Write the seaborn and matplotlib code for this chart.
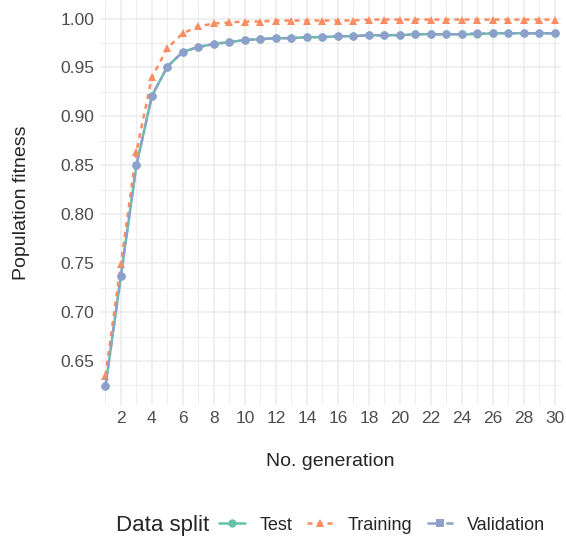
import numpy as np
import pandas as pd
import matplotlib.pyplot as plt
from matplotlib.lines import Line2D
from matplotlib.ticker import MultipleLocator
import seaborn as sns

generations = list(range(1, 31))
test = [0.624, 0.737, 0.850, 0.921, 0.951, 0.966, 0.971, 0.974, 0.976, 0.978,
        0.979, 0.980, 0.980, 0.981, 0.981, 0.982, 0.982, 0.983, 0.983, 0.983,
        0.984, 0.984, 0.984, 0.984, 0.984, 0.985, 0.985, 0.985, 0.985, 0.985]
training = [0.635, 0.749, 0.864, 0.940, 0.970, 0.985, 0.992, 0.995, 0.996, 0.997,
            0.997, 0.998, 0.998, 0.998, 0.998, 0.998, 0.998, 0.999, 0.999, 0.999,
            0.999, 0.999, 0.999, 0.999, 0.999, 0.999, 0.999, 0.999, 0.999, 0.999]
validation = [0.624, 0.737, 0.850, 0.921, 0.951, 0.966, 0.971, 0.974, 0.976, 0.978,
              0.979, 0.980, 0.980, 0.981, 0.981, 0.982, 0.982, 0.983, 0.983, 0.983,
              0.984, 0.984, 0.984, 0.984, 0.985, 0.985, 0.985, 0.985, 0.985, 0.985]
splits = ["Test", "Training", "Validation"]

df = pd.DataFrame({
    "gen": generations * 3,
    "fitness": test + training + validation,
    "split": [s for s in splits for _ in generations],
})

colors = {"Test": "#66c2a5", "Training": "#fc8d62", "Validation": "#8da0cb"}
dashes = {"Test": "", "Training": (2, 2), "Validation": (3.5, 1.5, 1, 1.5)}
markers = {"Test": "o", "Training": "^", "Validation": "o"}

sns.set_style("whitegrid")
plt.rcParams['font.family'] = ['Liberation Sans', 'DejaVu Sans']

fig = plt.figure(figsize=(5.66, 5.36), dpi=100)
ax = fig.add_axes([100/566, 1 - 405/536, 461/566, 405/536])

sns.lineplot(data=df, x="gen", y="fitness", hue="split", style="split",
             palette=colors, dashes=dashes, markers=markers, markersize=6,
             markeredgewidth=0, linewidth=1.8, ax=ax, legend=False)

ax.set_xlim(0.65, 30.4)
ax.set_ylim(0.605, 1.019)
ax.xaxis.set_minor_locator(MultipleLocator(1))
ax.yaxis.set_minor_locator(MultipleLocator(0.025))
ax.set_xticks(range(2, 31, 2))
yt = np.arange(0.65, 1.001, 0.05)
ax.set_yticks(yt)
ax.set_yticklabels([f"{v:.2f}" for v in yt])
ax.grid(which="major", color="#ebebeb", linewidth=1.1)
ax.grid(which="minor", color="#ebebeb", linewidth=0.6)
for s in ax.spines.values():
    s.set_visible(False)
ax.tick_params(which="both", length=0, labelsize=12.5, colors="#4d4d4d", pad=4)
ax.set_xlabel("No. generation", fontsize=14, labelpad=20)
ax.set_ylabel("Population fitness", fontsize=14, labelpad=22)

handles = [
    Line2D([], [], color=colors["Test"], linestyle="-", marker="o", markersize=6, markeredgewidth=0, linewidth=1.8),
    Line2D([], [], color=colors["Training"], linestyle=(0, (2, 2)), marker="^", markersize=6, markeredgewidth=0, linewidth=1.8),
    Line2D([], [], color=colors["Validation"], linestyle=(0, (3.5, 1.5, 1, 1.5)), marker="s", markersize=6, markeredgewidth=0, linewidth=1.8),
]
fig.text(116/566, 1 - 525/536, "Data split", fontsize=16, va="center", ha="left")
fig.legend(handles, splits, loc="center left", bbox_to_anchor=(219/566, 1 - 525/536),
           ncol=3, frameon=False, fontsize=13, handlelength=1.45, columnspacing=0.8,
           handletextpad=0.8, borderaxespad=0, borderpad=0)

fig.savefig("out.png", dpi=100)
